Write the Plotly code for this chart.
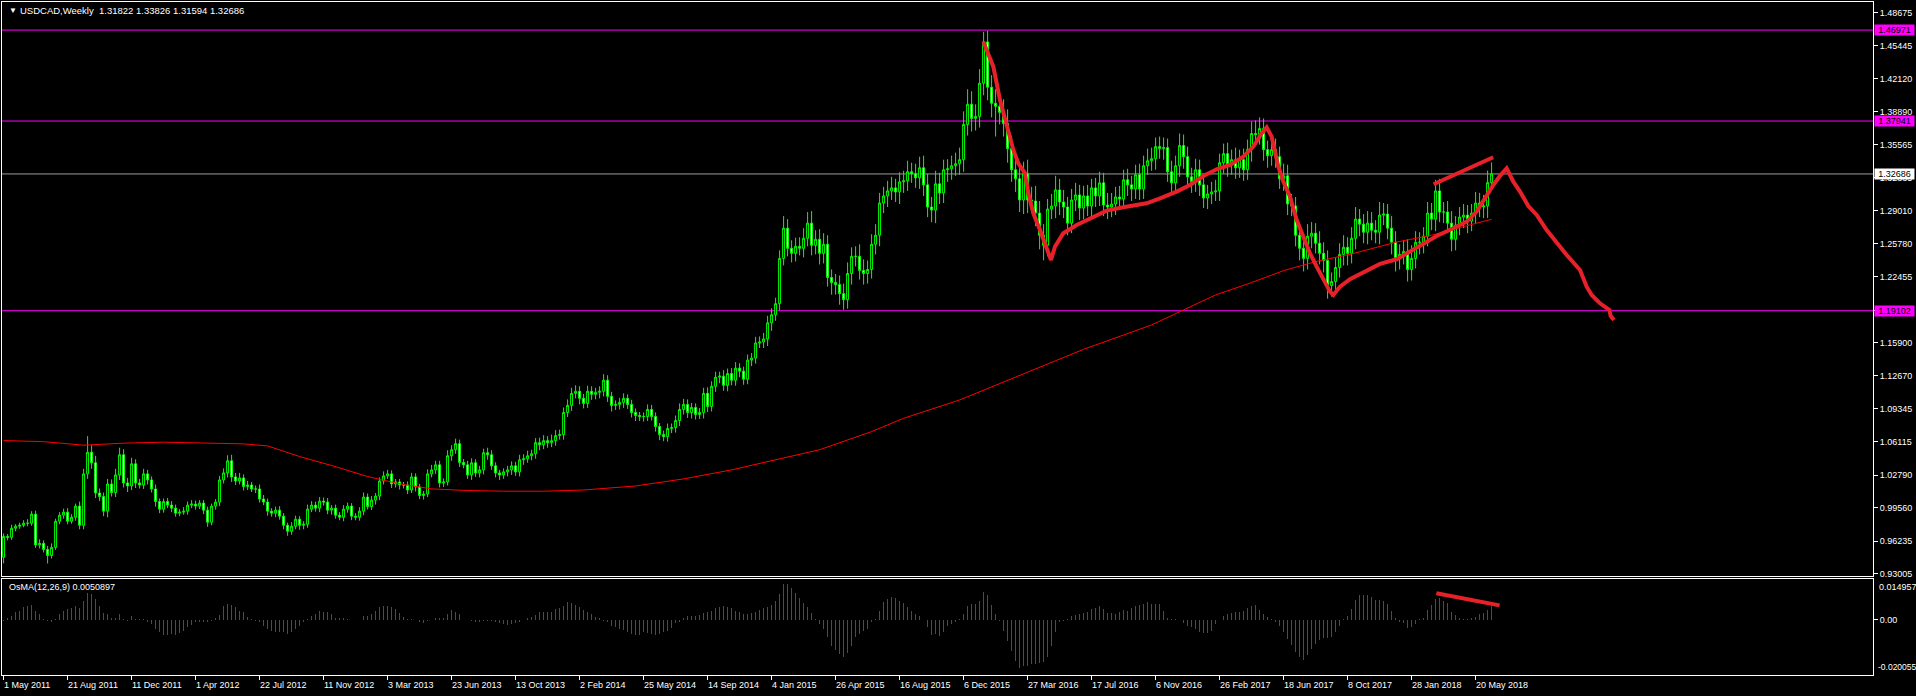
import plotly.graph_objects as go

# ---------------- data ----------------
symbol_title = "USDCAD,Weekly\u00a0\u00a01.31822 1.33826 1.31594 1.32686"
osma_title = "OsMA(12,26,9) 0.0050897"

first_open = 0.9462
closes = [
    0.9668, 0.9660, 0.9750, 0.9770, 0.9780, 0.9800, 0.9800, 0.9890, 0.9585, 0.9600,
    0.9540, 0.9480, 0.9560, 0.9820, 0.9880, 0.9910, 0.9820, 0.9860, 0.9970, 0.9780,
    1.0290, 1.0505, 1.0400, 1.0100, 1.0065, 0.9920, 1.0190, 1.0105, 1.0280, 1.0480,
    1.0200, 1.0170, 1.0390, 1.0200, 1.0180, 1.0290, 1.0230, 1.0140, 1.0015, 0.9940,
    1.0015, 0.9980, 0.9950, 0.9900, 0.9910, 0.9920, 0.9980, 0.9990, 0.9970, 1.0000,
    0.9930, 0.9810, 0.9970, 1.0010, 1.0230, 1.0300, 1.0420, 1.0260, 1.0220, 1.0250,
    1.0165, 1.0180, 1.0140, 1.0140, 1.0040, 1.0010, 0.9920, 0.9900, 0.9930, 0.9870,
    0.9780, 0.9720, 0.9770, 0.9840, 0.9780, 0.9790, 0.9940, 0.9980, 0.9950, 1.0020,
    1.0010, 0.9930, 0.9950, 0.9880, 0.9860, 0.9940, 0.9970, 0.9870, 0.9860, 0.9920,
    1.0060, 0.9966, 1.0030, 1.0070, 1.0220, 1.0270, 1.0290, 1.0190, 1.0210, 1.0180,
    1.0180, 1.0130, 1.0260, 1.0160, 1.0075, 1.0090, 1.0290, 1.0330, 1.0380, 1.0200,
    1.0210, 1.0470, 1.0530, 1.0590, 1.0403, 1.0380, 1.0280, 1.0400, 1.0300, 1.0330,
    1.0500, 1.0480, 1.0370, 1.0300, 1.0280, 1.0310, 1.0330, 1.0370, 1.0310, 1.0430,
    1.0440, 1.0470, 1.0490, 1.0600, 1.0580, 1.0620, 1.0600, 1.0620, 1.0670, 1.0680,
    1.0900, 1.0970, 1.1090, 1.1110, 1.1040, 1.0990, 1.1110, 1.1080, 1.1100, 1.1110,
    1.1220, 1.1060, 1.0970, 1.0980, 1.1000, 1.1040, 1.0980, 1.0900, 1.0870, 1.0860,
    1.0860, 1.0930, 1.0860, 1.0760, 1.0680, 1.0660, 1.0740, 1.0750, 1.0820, 1.0930,
    1.0980, 1.0900, 1.0950, 1.0880, 1.0900, 1.1090, 1.0960, 1.1160, 1.1250, 1.1260,
    1.1170, 1.1286, 1.1220, 1.1340, 1.1310, 1.1230, 1.1420, 1.1440, 1.1590, 1.1600,
    1.1630, 1.1790, 1.1870, 1.1980, 1.2430, 1.2730, 1.2530, 1.2480, 1.2550, 1.2530,
    1.2630, 1.2780, 1.2560, 1.2620, 1.2480, 1.2570, 1.2240, 1.2190, 1.2170, 1.2080,
    1.2020, 1.2280, 1.2450, 1.2450, 1.2310, 1.2280, 1.2320, 1.2570, 1.2660, 1.2980,
    1.3050, 1.3100, 1.3130, 1.3090, 1.3190, 1.3200, 1.3290, 1.3270, 1.3230, 1.3330,
    1.3160, 1.2940, 1.2910, 1.3170, 1.3080, 1.3310, 1.3320, 1.3350, 1.3370, 1.3410,
    1.3760, 1.3960, 1.3820, 1.3840, 1.4170, 1.4580, 1.4130, 1.3970, 1.3940, 1.3880,
    1.3770, 1.3520, 1.3310, 1.3220, 1.3010, 1.3270, 1.3010, 1.3000, 1.2880, 1.2660,
    1.2560, 1.2920, 1.2950, 1.3110, 1.2990, 1.2940, 1.2780, 1.3010, 1.3060, 1.2930,
    1.3050, 1.2950, 1.3130, 1.3050, 1.3180, 1.2960, 1.2940, 1.2970, 1.3040, 1.3020,
    1.3210, 1.3160, 1.3120, 1.3260, 1.3120, 1.3350, 1.3400, 1.3420, 1.3540, 1.3520,
    1.3530, 1.3290, 1.3180, 1.3350, 1.3550, 1.3440, 1.3240, 1.3190, 1.3310, 1.3160,
    1.3030, 1.3070, 1.3090, 1.3100, 1.3380, 1.3470, 1.3360, 1.3410, 1.3330, 1.3410,
    1.3310, 1.3510, 1.3670, 1.3660, 1.3720, 1.3510, 1.3450, 1.3510, 1.3440, 1.3220,
    1.3250, 1.2970, 1.2950, 1.2660, 1.2530, 1.2430, 1.2650, 1.2680, 1.2580, 1.2480,
    1.2410, 1.2160, 1.2200, 1.2340, 1.2470, 1.2540, 1.2480, 1.2630, 1.2820, 1.2770,
    1.2690, 1.2780, 1.2710, 1.2690, 1.2860, 1.2870, 1.2730, 1.2590, 1.2430, 1.2470,
    1.2500, 1.2320, 1.2430, 1.2590, 1.2590, 1.2650, 1.2880, 1.2820, 1.3100, 1.2890,
    1.2890, 1.2780, 1.2620, 1.2760, 1.2840, 1.2860, 1.2800, 1.2880, 1.2980, 1.2940,
    1.2950, 1.31822, 1.32686,
]

# upper / lower shadow lengths in pips beyond the candle body
wick_up = [
    30, 25, 35, 20, 25, 30, 40, 30, 35, 40,
    30, 35, 40, 25, 30, 35, 40, 30, 25, 45,
    50, 160, 70, 70, 45, 40, 50, 45, 60, 70,
    55, 50, 60, 45, 40, 50, 40, 35, 45, 30,
    30, 35, 40, 35, 30, 40, 35, 40, 35, 30,
    30, 35, 25, 30, 40, 45, 55, 60, 40, 50,
    35, 40, 30, 35, 45, 40, 35, 30, 35, 40,
    30, 25, 40, 35, 30, 30, 45, 40, 35, 40,
    35, 40, 30, 35, 30, 40, 35, 30, 30, 40,
    45, 35, 40, 30, 35, 45, 40, 35, 30, 30,
    30, 35, 40, 35, 30, 30, 45, 50, 40, 40,
    35, 55, 45, 50, 40, 35, 40, 45, 35, 40,
    40, 50, 45, 35, 30, 35, 40, 45, 40, 50,
    45, 50, 40, 45, 50, 55, 45, 60, 55, 50,
    50, 60, 55, 60, 50, 45, 55, 50, 45, 50,
    60, 50, 45, 40, 45, 50, 40, 45, 40, 35,
    40, 50, 45, 40, 35, 40, 50, 40, 50, 60,
    55, 50, 45, 40, 45, 55, 60, 50, 55, 45,
    60, 50, 55, 60, 50, 45, 55, 50, 60, 55,
    60, 70, 65, 60, 80, 120, 90, 80, 85, 90,
    100, 110, 120, 90, 100, 110, 90, 80, 85, 90,
    100, 110, 90, 100, 120, 110, 90, 100, 110, 100,
    90, 100, 110, 90, 95, 100, 110, 90, 100, 110,
    120, 110, 100, 130, 110, 100, 95, 100, 110, 120,
    130, 150, 130, 120, 140, 100, 110, 120, 140, 120,
    130, 140, 130, 120, 130, 120, 140, 130, 150, 120,
    110, 100, 120, 140, 110, 120, 100, 110, 120, 100,
    100, 110, 90, 100, 110, 100, 120, 110, 100, 110,
    100, 110, 90, 100, 110, 100, 120, 110, 90, 100,
    100, 90, 110, 100, 120, 110, 100, 90, 110, 100,
    100, 90, 100, 110, 90, 100, 110, 100, 120, 100,
    110, 100, 120, 130, 110, 100, 90, 100, 110, 100,
    120, 110, 100, 90, 110, 100, 120, 110, 100, 120,
    110, 100, 90, 100, 110, 120, 100, 110, 120, 100,
    100, 120, 110, 100, 130, 110, 100, 120, 110, 100,
    110, 120, 130, 110, 100, 90, 110, 100, 110, 120,
    100, 110, 120, 90, 100, 110, 100, 90, 110, 100,
    110, 120, 114,
]
wick_dn = [
    60, 30, 25, 30, 25, 20, 30, 25, 30, 35,
    30, 80, 30, 25, 30, 35, 30, 25, 35, 40,
    40, 50, 60, 50, 45, 50, 60, 40, 45, 50,
    45, 60, 40, 50, 35, 40, 45, 35, 50, 40,
    35, 30, 40, 35, 30, 25, 35, 30, 35, 30,
    40, 45, 30, 35, 40, 35, 45, 50, 40, 35,
    40, 35, 30, 40, 35, 30, 45, 35, 40, 35,
    40, 45, 35, 30, 45, 40, 35, 30, 35, 40,
    35, 40, 45, 35, 30, 40, 35, 40, 30, 35,
    40, 30, 35, 45, 40, 35, 30, 40, 35, 45,
    35, 40, 30, 45, 35, 40, 30, 35, 40, 45,
    40, 35, 50, 40, 45, 35, 40, 50, 40, 45,
    45, 50, 40, 45, 50, 40, 45, 50, 40, 45,
    50, 40, 45, 50, 55, 45, 50, 45, 50, 40,
    50, 45, 55, 50, 60, 50, 45, 55, 50, 60,
    50, 55, 60, 45, 50, 55, 45, 50, 55, 45,
    50, 45, 40, 50, 55, 45, 50, 45, 50, 55,
    50, 55, 60, 50, 45, 60, 55, 50, 55, 60,
    55, 60, 50, 55, 60, 55, 50, 60, 55, 50,
    60, 70, 80, 60, 65, 70, 80, 90, 80, 70,
    90, 80, 100, 90, 110, 100, 90, 120, 100, 110,
    100, 90, 110, 100, 90, 110, 100, 90, 100, 110,
    100, 110, 90, 100, 120, 110, 100, 90, 100, 110,
    110, 100, 120, 130, 110, 100, 120, 110, 100, 110,
    120, 110, 130, 120, 110, 120, 130, 140, 300, 120,
    130, 140, 120, 130, 120, 140, 130, 120, 130, 140,
    150, 110, 100, 120, 130, 110, 120, 100, 110, 120,
    110, 100, 120, 110, 100, 110, 120, 100, 110, 100,
    100, 110, 120, 100, 110, 100, 90, 100, 110, 100,
    110, 100, 90, 100, 110, 120, 100, 110, 100, 110,
    100, 110, 100, 90, 100, 110, 120, 100, 110, 100,
    110, 100, 120, 110, 100, 110, 120, 100, 110, 100,
    120, 110, 100, 110, 120, 130, 110, 120, 100, 110,
    120, 130, 110, 120, 100, 110, 120, 100, 110, 120,
    110, 120, 100, 110, 120, 100, 110, 120, 130, 110,
    100, 120, 110, 100, 120, 110, 100, 110, 120, 100,
    110, 100, 120, 110, 100, 110, 120, 100, 110, 100,
    110, 120, 23,
]

osma = [
    -0.0005, 0.0005, 0.0015, 0.0029, 0.0033, 0.0045, 0.0049, 0.0054, 0.0033, 0.0021,
    0.0003, -0.0004, -0.0007, 0.0002, 0.0021, 0.0033, 0.0039, 0.0041, 0.0051, 0.0041,
    0.0069, 0.0097, 0.0094, 0.0075, 0.0051, 0.0024, 0.0021, 0.0005, 0.0005, 0.0021,
    0.0002, -0.0004, 0.0012, 0.0002, 0.0002, 0.0002, -0.0007, -0.0016, -0.0032, -0.0046,
    -0.0054, -0.0054, -0.0052, -0.0054, -0.0049, -0.0040, -0.0028, -0.0019, -0.0010, -0.0010,
    -0.0007, -0.0007, -0.0004, 0.0005, 0.0017, 0.0051, 0.0057, 0.0054, 0.0045, 0.0033,
    0.0027, 0.0009, 0.0001, -0.0004, -0.0010, -0.0022, -0.0034, -0.0040, -0.0043, -0.0044,
    -0.0046, -0.0050, -0.0044, -0.0034, -0.0022, -0.0010, 0.0002, 0.0015, 0.0021, 0.0033,
    0.0027, 0.0027, 0.0021, 0.0006, 0.0005, 0.0005, 0.0002, 0.0000, 0.0000, 0.0000,
    0.0012, 0.0015, 0.0021, 0.0033, 0.0045, 0.0051, 0.0049, 0.0045, 0.0039, 0.0024,
    0.0009, 0.0002, 0.0002, 0.0000, -0.0007, -0.0012, -0.0004, 0.0000, 0.0005, 0.0005,
    0.0005, 0.0021, 0.0036, 0.0029, 0.0021, 0.0000, 0.0000, -0.0004, -0.0010, -0.0007,
    -0.0005, -0.0004, -0.0004, -0.0007, -0.0012, -0.0016, -0.0019, -0.0017, -0.0012, -0.0007,
    0.0000, 0.0005, 0.0009, 0.0017, 0.0027, 0.0027, 0.0029, 0.0027, 0.0039, 0.0041,
    0.0051, 0.0063, 0.0060, 0.0054, 0.0045, 0.0036, 0.0029, 0.0021, 0.0009, 0.0005,
    -0.0004, -0.0010, -0.0022, -0.0028, -0.0032, -0.0038, -0.0046, -0.0052, -0.0056, -0.0054,
    -0.0046, -0.0049, -0.0052, -0.0056, -0.0052, -0.0046, -0.0040, -0.0029, -0.0012, -0.0007,
    0.0005, 0.0012, 0.0015, 0.0015, 0.0017, 0.0024, 0.0027, 0.0033, 0.0041, 0.0045,
    0.0049, 0.0045, 0.0041, 0.0033, 0.0029, 0.0021, 0.0021, 0.0024, 0.0029, 0.0036,
    0.0041, 0.0045, 0.0054, 0.0069, 0.0094, 0.0130, 0.0130, 0.0114, 0.0097, 0.0078,
    0.0061, 0.0045, 0.0024, 0.0002, -0.0016, -0.0034, -0.0064, -0.0095, -0.0109, -0.0125,
    -0.0134, -0.0119, -0.0097, -0.0064, -0.0052, -0.0040, -0.0034, -0.0010, 0.0002, 0.0033,
    0.0063, 0.0075, 0.0081, 0.0078, 0.0069, 0.0061, 0.0045, 0.0033, 0.0021, 0.0015,
    0.0000, -0.0028, -0.0056, -0.0052, -0.0058, -0.0044, -0.0022, -0.0016, -0.0007, 0.0002,
    0.0021, 0.0051, 0.0057, 0.0057, 0.0069, 0.0100, 0.0088, 0.0054, 0.0021, -0.0004,
    -0.0040, -0.0077, -0.0113, -0.0150, -0.0174, -0.0168, -0.0168, -0.0162, -0.0162, -0.0156,
    -0.0153, -0.0134, -0.0095, -0.0046, -0.0010, -0.0004, 0.0002, 0.0015, 0.0017, 0.0021,
    0.0024, 0.0029, 0.0039, 0.0041, 0.0049, 0.0039, 0.0024, 0.0024, 0.0021, 0.0027,
    0.0036, 0.0033, 0.0041, 0.0051, 0.0054, 0.0057, 0.0063, 0.0057, 0.0057, 0.0057,
    0.0033, 0.0005, 0.0002, 0.0002, 0.0000, -0.0012, -0.0022, -0.0028, -0.0034, -0.0044,
    -0.0049, -0.0049, -0.0040, -0.0016, 0.0000, 0.0015, 0.0021, 0.0024, 0.0027, 0.0029,
    0.0033, 0.0041, 0.0049, 0.0054, 0.0036, 0.0021, 0.0009, 0.0002, -0.0010, -0.0024,
    -0.0044, -0.0071, -0.0092, -0.0117, -0.0137, -0.0146, -0.0129, -0.0107, -0.0089, -0.0073,
    -0.0068, -0.0068, -0.0064, -0.0046, -0.0022, 0.0003, 0.0015, 0.0039, 0.0072, 0.0088,
    0.0091, 0.0090, 0.0081, 0.0072, 0.0072, 0.0069, 0.0057, 0.0033, 0.0005, -0.0007,
    -0.0013, -0.0030, -0.0028, -0.0016, 0.0004, 0.0005, 0.0036, 0.0054, 0.0075, 0.0078,
    0.0069, 0.0061, 0.0029, 0.0017, 0.0006, 0.0002, 0.0002, 0.0005, 0.0011, 0.0021,
    0.0023, 0.0036, 0.0050897,
]

# moving average (thin red line), bar index / price
ma_idx = [0, 10, 20, 30, 40, 50, 60, 66, 74, 82, 91, 99, 107, 116, 125, 135, 145, 158,
          170, 182, 194, 204, 217, 225, 239, 255, 270, 287, 295, 303, 312, 320, 328,
          337, 348, 357, 365, 372]
ma_val = [1.0621, 1.0610, 1.0575, 1.0595, 1.0605, 1.0595, 1.0588, 1.0568, 1.0462,
          1.0373, 1.0264, 1.0191, 1.0141, 1.0125, 1.0118, 1.0118, 1.0130, 1.0170,
          1.0240, 1.0330, 1.0440, 1.0530, 1.0710, 1.0842, 1.1024, 1.1280, 1.1527,
          1.1769, 1.1918, 1.2067, 1.2190, 1.2308, 1.2398, 1.2474, 1.2590, 1.2660,
          1.2746, 1.2818]

# hand-drawn red path (bar index / price)
path_idx = [244.93, 247.43, 249.1, 250.77, 252.43, 253.68, 255.35, 256.18, 257.43,
            259.1, 260.77, 261.85, 262.85, 264.93, 268.27, 271.6, 275.77, 279.93,
            285.77, 289.1, 293.27, 296.6, 299.93, 303.27, 306.6, 309.93, 312.43,
            314.52, 315.77, 317.02, 318.68, 319.93, 321.6, 323.27, 324.93, 326.6,
            328.27, 329.93, 331.6, 332.43, 334.1, 336.6, 339.93, 344.1, 348.27,
            351.6, 354.93, 358.27, 362.43, 365.77, 368.27, 370.77, 372.43, 374.1,
            375.77, 377.43, 379.1, 381.18, 383.27, 385.77, 388.27, 390.77, 394.1,
            395.77, 397.02, 399.1, 401.43, 401.77, 402.6]
path_val = [1.4582, 1.4334, 1.4003, 1.3738, 1.3507, 1.3374, 1.3275, 1.3076, 1.2878,
            1.2712, 1.2547, 1.2414, 1.2547, 1.2679, 1.2762, 1.2828, 1.2904, 1.2937,
            1.2977, 1.3026, 1.3093, 1.3159, 1.3248, 1.3315, 1.3358, 1.3440, 1.3540,
            1.3672, 1.3732, 1.3639, 1.3341, 1.3192, 1.3043, 1.2811, 1.2646, 1.2480,
            1.2348, 1.2216, 1.2100, 1.2067, 1.2150, 1.2223, 1.2289, 1.2375, 1.2421,
            1.2497, 1.2580, 1.2653, 1.2729, 1.2795, 1.2895, 1.3060, 1.3159, 1.3250,
            1.3324, 1.3192, 1.3093, 1.2950, 1.2861, 1.2712, 1.2580, 1.2464, 1.2315,
            1.2149, 1.2067, 1.1984, 1.1918, 1.1858, 1.1818]

div_idx = [357.5, 372.4]
div_val = [1.3166, 1.3434]
osma_div_idx = [358.2, 374.0]
osma_div_val = [0.0096, 0.0052]

level_lines = [1.46971, 1.37941, 1.19102]
bid_price = 1.32686

price_ticks = [1.48675, 1.45445, 1.42120, 1.38890, 1.35565, 1.32335, 1.29010, 1.25780,
               1.22455, 1.19125, 1.15900, 1.12670, 1.09345, 1.06115, 1.02790, 0.99560,
               0.96235, 0.93005]
osma_max_label = 0.014957
osma_min_label = -0.020055

date_tick_idx = [0, 16, 32, 48, 64, 80, 96, 112, 128, 144, 160, 176, 192, 208, 224,
                 240, 256, 272, 288, 304, 320, 336, 352, 368]
date_tick_labels = ["1 May 2011", "21 Aug 2011", "11 Dec 2011", "1 Apr 2012",
                    "22 Jul 2012", "11 Nov 2012", "3 Mar 2013", "23 Jun 2013",
                    "13 Oct 2013", "2 Feb 2014", "25 May 2014", "14 Sep 2014",
                    "4 Jan 2015", "26 Apr 2015", "16 Aug 2015", "6 Dec 2015",
                    "27 Mar 2016", "17 Jul 2016", "6 Nov 2016", "26 Feb 2017",
                    "18 Jun 2017", "8 Oct 2017", "28 Jan 2018", "20 May 2018"]

# ---------------- derived ----------------
n = len(closes)
idx = list(range(n))
opens = [first_open] + closes[:-1]
highs = [max(o, c) + u / 10000 for o, c, u in zip(opens, closes, wick_up)]
lows = [min(o, c) - d / 10000 for o, c, d in zip(opens, closes, wick_dn)]

# ---------------- geometry ----------------
W, H = 1916, 696
ML, MR, MT, MB = 2, 43, 2, 21
PW = W - ML - MR
PH = H - MT - MB
X_RANGE = [-0.4, 467.35]
Y_RANGE = [0.9276, 1.4976]
OSMA_RANGE = [-0.020055, 0.014957]
FONT = "Liberation Sans, Arial, sans-serif"


def px_x(px):
    return (px - ML) / PW


def px_y(py):
    return (H - MB - py) / PH


fig = go.Figure()

fig.add_trace(go.Candlestick(
    x=idx, open=opens, high=highs, low=lows, close=closes,
    xaxis="x", yaxis="y",
    increasing=dict(line=dict(color="#00ff00", width=1), fillcolor="#000000"),
    decreasing=dict(line=dict(color="#00ff00", width=1), fillcolor="#ffffff"),
    whiskerwidth=0, hoverinfo="skip", showlegend=False,
))

fig.add_trace(go.Scatter(x=ma_idx, y=ma_val, mode="lines", xaxis="x", yaxis="y",
                         line=dict(color="#ff0000", width=1), hoverinfo="skip"))

fig.add_trace(go.Scatter(x=path_idx, y=path_val, mode="lines", xaxis="x", yaxis="y",
                         line=dict(color="#e8202a", width=4), hoverinfo="skip"))
fig.add_trace(go.Scatter(x=div_idx, y=div_val, mode="lines", xaxis="x", yaxis="y",
                         line=dict(color="#e8202a", width=4), hoverinfo="skip"))

fig.add_trace(go.Bar(x=idx, y=osma, xaxis="x2", yaxis="y2", width=0.3,
                     marker=dict(color="#ff0000", line=dict(width=0)), hoverinfo="skip"))
fig.add_trace(go.Scatter(x=osma_div_idx, y=osma_div_val, mode="lines", xaxis="x2",
                         yaxis="y2", line=dict(color="#e8202a", width=4), hoverinfo="skip"))

shapes = []
for lv in level_lines:
    shapes.append(dict(type="line", xref="paper", yref="y", x0=0, x1=1, y0=lv, y1=lv,
                       line=dict(color="#ff00ff", width=1), layer="below"))
shapes.append(dict(type="line", xref="paper", yref="y", x0=0, x1=1, y0=bid_price,
                   y1=bid_price, line=dict(color="#9a9a9a", width=1), layer="below"))

annotations = []
# header texts
annotations.append(dict(xref="paper", yref="paper", x=px_x(7), y=px_y(11), text="▼",
                        showarrow=False, xanchor="left", yanchor="middle",
                        font=dict(color="white", size=8, family=FONT)))
annotations.append(dict(xref="paper", yref="paper", x=px_x(18), y=px_y(11),
                        text=symbol_title, showarrow=False, xanchor="left",
                        yanchor="middle", font=dict(color="white", size=9.5, family=FONT)))
annotations.append(dict(xref="paper", yref="paper", x=px_x(7), y=px_y(587),
                        text=osma_title, showarrow=False, xanchor="left",
                        yanchor="middle", font=dict(color="white", size=9, family=FONT)))

# price boxes on the right axis
for lv in level_lines:
    annotations.append(dict(xref="paper", yref="y", x=px_x(1874), y=lv,
                            text=f"{lv:.5f}", showarrow=False, xanchor="left",
                            yanchor="middle", bgcolor="#ff00ff", borderpad=0,
                            width=39, height=10, align="center",
                            font=dict(color="#000000", size=9, family=FONT)))
annotations.append(dict(xref="paper", yref="y", x=px_x(1874), y=bid_price,
                        text=f"{bid_price:.5f}", showarrow=False, xanchor="left",
                        yanchor="middle", bgcolor="#ffffff", borderpad=0,
                        width=39, height=10, align="center",
                        font=dict(color="#000000", size=9, family=FONT)))

# OsMA scale labels
annotations.append(dict(xref="paper", yref="y2", x=px_x(1877), y=osma_max_label,
                        text=f"{osma_max_label:.6f}", showarrow=False, xanchor="left",
                        yanchor="top", yshift=-1,
                        font=dict(color="white", size=9, family=FONT)))
annotations.append(dict(xref="paper", yref="y2", x=px_x(1876), y=osma_min_label,
                        text=f"{osma_min_label:.6f}", showarrow=False, xanchor="left",
                        yanchor="bottom", yshift=1,
                        font=dict(color="white", size=8.5, family=FONT)))

# date labels (left-aligned on the tick, MT4 style)
for i, lab in zip(date_tick_idx, date_tick_labels):
    annotations.append(dict(xref="x2", yref="paper", x=i, y=px_y(685), text=lab,
                            showarrow=False, xanchor="left", yanchor="middle", xshift=-2,
                            font=dict(color="white", size=9, family=FONT)))

main_dom_bottom = px_y(576)
osma_dom_top = px_y(578.5)

fig.update_layout(
    width=W, height=H,
    margin=dict(l=ML, r=MR, t=MT, b=MB, pad=0),
    paper_bgcolor="#000000", plot_bgcolor="#000000",
    showlegend=False, hovermode=False, bargap=0,
    shapes=shapes, annotations=annotations,
    xaxis=dict(domain=[0, 1], anchor="y", range=X_RANGE, showgrid=False, zeroline=False,
               showline=True, mirror=True, linecolor="#ffffff", linewidth=1,
               showticklabels=False, ticks="", rangeslider=dict(visible=False)),
    xaxis2=dict(domain=[0, 1], anchor="y2", matches="x", range=X_RANGE, showgrid=False,
                zeroline=False, showline=True, mirror=True, linecolor="#ffffff",
                linewidth=1, ticks="outside", ticklen=4, tickcolor="#ffffff",
                tickvals=date_tick_idx, showticklabels=False),
    yaxis=dict(domain=[main_dom_bottom, 1], anchor="x", range=Y_RANGE, side="right",
               showgrid=False, zeroline=False, showline=True, mirror=True,
               linecolor="#ffffff", linewidth=1, ticks="outside", ticklen=4,
               tickcolor="#ffffff", tickvals=price_ticks,
               ticktext=[f"{v:.5f}" for v in price_ticks],
               tickfont=dict(color="#ffffff", size=9, family=FONT)),
    yaxis2=dict(domain=[0, osma_dom_top], anchor="x2", range=OSMA_RANGE, side="right",
                showgrid=False, zeroline=False, showline=True, mirror=True,
                linecolor="#ffffff", linewidth=1, ticks="outside", ticklen=4,
                tickcolor="#ffffff", tickvals=[0], ticktext=["0.00"],
                tickfont=dict(color="#ffffff", size=9, family=FONT)),
)

fig.write_html(
    "out.html",
    config=dict(displayModeBar=False, staticPlot=True),
    post_script="document.body.style.margin='0px';document.body.style.padding='0px';"
                "document.body.style.background='#000000';",
)
